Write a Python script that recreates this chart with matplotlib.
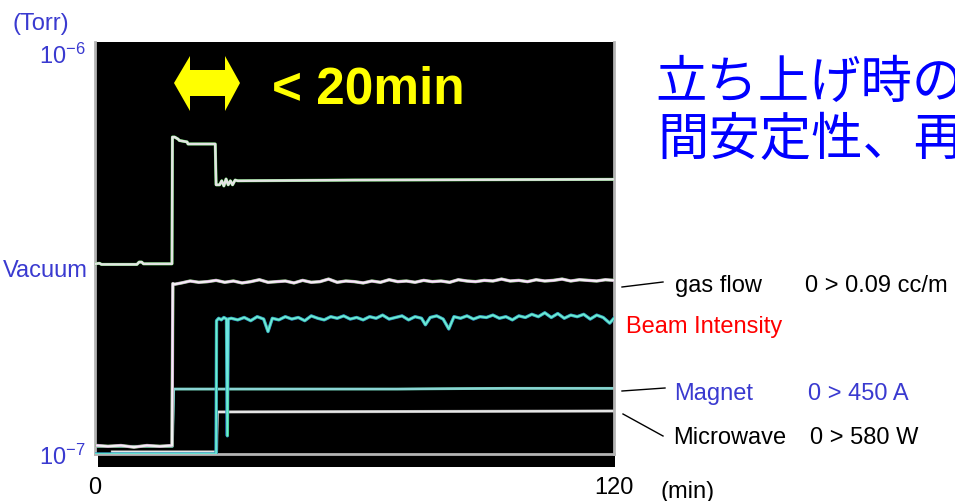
import matplotlib
matplotlib.use("Agg")
import matplotlib.pyplot as plt
from matplotlib.lines import Line2D
from matplotlib.patches import Polygon, Rectangle
from matplotlib.ticker import NullLocator

plt.rcParams["font.family"] = ["Liberation Sans", "Noto Sans CJK JP", "DejaVu Sans"]
plt.rcParams["mathtext.fontset"] = "custom"
plt.rcParams["mathtext.rm"] = "Liberation Sans"

# all traces drawn on the vacuum scale, in units of 1e-7 Torr
UNIT = 1e-7

vac_time = [0, 1.0, 1.5, 3.5, 9.7, 10.2, 10.8, 11.2, 17.8, 17.9, 18.4, 19.2, 19.5,
            21.3, 21.5, 27.8, 28.0, 28.8, 29.3, 29.8, 30.3, 30.8, 31.3, 31.8, 32.4,
            33.0, 60, 120]
vac_level = [2.98, 2.99, 2.97, 2.97, 2.97, 3.01, 3.01, 2.98, 2.98, 6.17, 6.17, 6.10,
             6.05, 6.00, 5.93, 5.93, 4.69, 4.69, 4.80, 4.66, 4.85, 4.69, 4.80, 4.69,
             4.82, 4.80, 4.82, 4.84]

gas_time = [0.5, 3, 6, 9, 12, 15, 17.8, 18.0, 18.4,
            20, 22, 24, 26, 28, 30, 32, 34, 36, 38, 40, 42, 44, 46, 48, 50, 52, 54,
            56, 58, 60, 62, 64, 66, 68, 70, 72, 74, 76, 78, 80, 82, 84, 86, 88, 90,
            92, 94, 96, 98, 100, 102, 104, 106, 108, 110, 112, 114, 116, 118, 120]
gas_level = [1.05, 1.045, 1.05, 1.04, 1.05, 1.045, 1.05, 2.66, 2.65,
             2.67, 2.70, 2.68, 2.69, 2.71, 2.68, 2.70, 2.67, 2.69, 2.72, 2.68, 2.69,
             2.70, 2.67, 2.71, 2.68, 2.69, 2.73, 2.68, 2.70, 2.69, 2.67, 2.70, 2.68,
             2.72, 2.69, 2.70, 2.68, 2.71, 2.69, 2.70, 2.68, 2.72, 2.70, 2.69, 2.71,
             2.70, 2.73, 2.70, 2.71, 2.69, 2.72, 2.70, 2.71, 2.73, 2.70, 2.72, 2.71,
             2.70, 2.72, 2.71]

beam_start_time = [0, 28.0, 28.1, 28.6, 29.2, 29.8, 30.4, 30.6, 30.8]
beam_start_level = [1.0, 1.0, 2.15, 2.18, 2.16, 2.19, 2.17, 1.11, 2.17]
beam_time = [31.5, 33, 34.5, 36, 37.5, 39, 40, 41, 42.5, 44, 45.5, 47, 48.5, 50,
             51.5, 53, 54.5, 56, 57.5, 59, 60.5, 62, 63.5, 65, 66.5, 68, 69.5, 71,
             72.5, 74, 75.5, 76.4, 77.5, 79, 80.5, 81.8, 83, 84.5, 86, 87.5, 89,
             90.5, 92, 93.5, 95, 96.5, 98, 99.5, 101, 102.5, 104, 105.5, 107, 108.5,
             110, 111.5, 113, 114.5, 116, 117.5, 119, 120]
beam_level = [2.18, 2.16, 2.19, 2.15, 2.20, 2.17, 2.02, 2.18, 2.16, 2.20, 2.17, 2.19,
              2.15, 2.21, 2.18, 2.16, 2.20, 2.18, 2.21, 2.17, 2.19, 2.16, 2.20, 2.18,
              2.22, 2.17, 2.19, 2.21, 2.16, 2.20, 2.18, 2.10, 2.19, 2.21, 2.17, 2.05,
              2.20, 2.18, 2.21, 2.17, 2.20, 2.19, 2.22, 2.18, 2.20, 2.16, 2.21, 2.19,
              2.23, 2.20, 2.25, 2.19, 2.24, 2.18, 2.22, 2.20, 2.23, 2.17, 2.22, 2.19,
              2.12, 2.18]

magnet_time = [0.5, 17.9, 18.2, 40, 70, 95, 120]
magnet_level = [1.045, 1.045, 1.452, 1.452, 1.452, 1.458, 1.458]

mw_time = [4, 28.1, 28.3, 70, 120]
mw_level = [1.012, 1.012, 1.273, 1.276, 1.280]

x_ticks = [0, 120]
x_labels = ["0", "120"]
y_ticks = [1e-7, 1e-6]
y_labels = [r"$\mathregular{10^{-7}}$", r"$\mathregular{10^{-6}}$"]

W, H = 955, 502


def fx(x):
    return x / W


def fy(y):
    return 1 - y / H


def scaled(vals):
    return [v * UNIT for v in vals]


fig = plt.figure(figsize=(W / 100, H / 100), dpi=100, facecolor="white")
ax = fig.add_axes([fx(95), fy(455), (614 - 95) / W, (455 - 43) / H])
ax.set_facecolor("black")
ax.set_yscale("log")
ax.set_xlim(0, 120)
ax.set_ylim(1e-7, 1.065e-6)

# black strip under the frame, as in the screenshot
fig.add_artist(Rectangle((fx(98), fy(468)), (615 - 98) / W, 13 / H,
                         transform=fig.transFigure, facecolor="black",
                         edgecolor="none", zorder=-1))

# traces (thin coloured halo + light core, like the scanned recorder plot)
ax.plot(mw_time, scaled(mw_level), color="#8a8a8a", lw=2.2, zorder=2)
ax.plot(mw_time, scaled(mw_level), color="#e6e6e6", lw=1.6, zorder=2)

ax.plot(magnet_time, scaled(magnet_level), color="#5fc0a0", lw=2.0, zorder=2)
ax.plot(magnet_time, scaled(magnet_level), color="#8ad4d4", lw=1.6, zorder=2)

ax.plot(gas_time, scaled(gas_level), color="#6fd05f", lw=2.4, zorder=3)
ax.plot(gas_time, scaled(gas_level), color="#d880e0", lw=2.0, zorder=3)
ax.plot(gas_time, scaled(gas_level), color="#f2f2f2", lw=1.5, zorder=3)

bt = beam_start_time + beam_time
bl = beam_start_level + beam_level
ax.plot(bt, scaled(bl), color="#2f7fe0", lw=2.4, zorder=3)
ax.plot(bt, scaled(bl), color="#3fd080", lw=1.8, zorder=3)
ax.plot(bt, scaled(bl), color="#6fe6e6", lw=1.1, zorder=3)

ax.plot(vac_time, scaled(vac_level), color="#4fc84f", lw=2.2, zorder=4)
ax.plot(vac_time, scaled(vac_level), color="#e4e4e4", lw=1.8, zorder=4)

# axes styling
for side in ["left", "bottom", "right"]:
    ax.spines[side].set_color("#b4b4b4")
    ax.spines[side].set_linewidth(2)
ax.spines["top"].set_visible(False)
ax.yaxis.set_minor_locator(NullLocator())
ax.set_yticks(y_ticks)
ax.set_yticklabels(y_labels)
ax.set_xticks(x_ticks)
ax.set_xticklabels(x_labels)
ax.tick_params(axis="y", length=0, pad=7, labelsize=17, labelcolor="#3a3ad0")
ax.tick_params(axis="x", length=0, pad=16, labelsize=17, labelcolor="black")

# yellow double arrow and note
arrow_px = [(174, 84), (190, 57), (190, 71), (225, 71), (225, 57), (240, 84),
            (225, 112), (225, 97), (190, 97), (190, 112)]
fig.add_artist(Polygon([(fx(x), fy(y)) for x, y in arrow_px], closed=True,
                       transform=fig.transFigure, facecolor="#ffff00",
                       edgecolor="none", zorder=5))
fig.text(fx(272), fy(103), "< 20min", color="#ffff00", fontsize=37,
         fontweight="bold", va="baseline", ha="left")

# left labels
blue = "#3a3ad0"
fig.text(fx(12), fy(30), "(Torr)", color=blue, fontsize=17, va="baseline")
fig.text(fx(3), fy(277), "Vacuum", color=blue, fontsize=17, va="baseline")
fig.text(fx(660), fy(498), "(min)", color="black", fontsize=17, va="baseline")

# Japanese headline (cut off at the right edge, as in the slide)
jp = ["Noto Sans CJK JP", "DejaVu Sans"]
fig.text(fx(655), fy(83), "立ち上げ時の", color="#0000ff", fontsize=37,
         family=jp, va="center", ha="left")
fig.text(fx(657), fy(140), "間安定性、再", color="#0000ff", fontsize=37,
         family=jp, va="center", ha="left")

# right-hand labels with leader lines
fig.text(fx(675), fy(292), "gas flow", color="black", fontsize=17, va="baseline")
fig.text(fx(805), fy(292), "0 > 0.09 cc/m", color="black", fontsize=17, va="baseline")
fig.text(fx(626), fy(333), "Beam Intensity", color="#ff0000", fontsize=17, va="baseline")
fig.text(fx(674), fy(400), "Magnet", color=blue, fontsize=17, va="baseline")
fig.text(fx(808), fy(400), "0 > 450 A", color=blue, fontsize=17, va="baseline")
fig.text(fx(673), fy(444), "Microwave", color="black", fontsize=17, va="baseline")
fig.text(fx(810), fy(444), "0 > 580 W", color="black", fontsize=17, va="baseline")

leaders = [((622, 288), (663, 283)), ((622, 392), (665, 389)), ((623, 415), (663, 437))]
for (x0, y0), (x1, y1) in leaders:
    fig.add_artist(Line2D([fx(x0), fx(x1)], [fy(y0), fy(y1)], color="black",
                          lw=1, transform=fig.transFigure))

fig.savefig("out.png", dpi=100, facecolor="white")
